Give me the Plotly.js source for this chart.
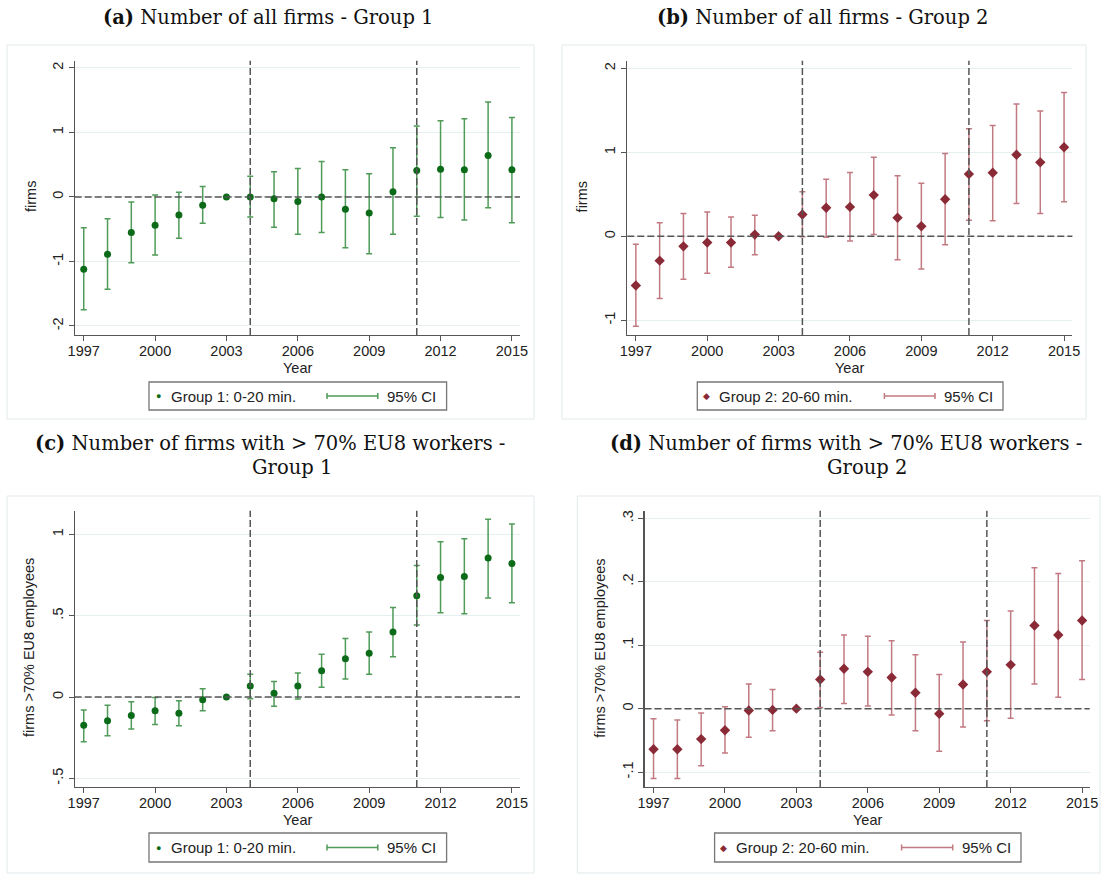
<!DOCTYPE html>
<html>
<head>
<meta charset="utf-8">
<script src="https://cdn.plot.ly/plotly-3.0.1.min.js"></script>
<style>html,body{margin:0;padding:0;background:#fff;}#chart{width:1101px;height:875px;}</style>
</head>
<body>
<div id="chart"></div>
<script>
// ---------------- data ----------------
var years = [1997,1998,1999,2000,2001,2002,2003,2004,2005,2006,2007,2008,2009,2010,2011,2012,2013,2014,2015];
var xTickVals = [1997,2000,2003,2006,2009,2012,2015];
var refYears = [2004, 2011];

// (a) Number of all firms - Group 1
var g1AllCoef = [-1.12,-0.89,-0.55,-0.44,-0.28,-0.13,0,0.00,-0.03,-0.07,0.00,-0.19,-0.25,0.08,0.41,0.43,0.42,0.64,0.42];
var g1AllHi   = [-0.48,-0.34,-0.08,0.03,0.07,0.16,null,0.32,0.39,0.44,0.55,0.42,0.36,0.76,1.10,1.18,1.21,1.47,1.23];
var g1AllLo   = [-1.75,-1.43,-1.02,-0.90,-0.64,-0.41,null,-0.31,-0.47,-0.58,-0.55,-0.79,-0.88,-0.58,-0.30,-0.32,-0.36,-0.17,-0.40];

// (b) Number of all firms - Group 2
var g2AllCoef = [-0.585,-0.29,-0.12,-0.075,-0.075,0.02,0,0.26,0.34,0.35,0.49,0.22,0.12,0.44,0.74,0.756,0.97,0.88,1.06];
var g2AllHi   = [-0.095,0.16,0.27,0.29,0.23,0.25,null,0.53,0.68,0.76,0.94,0.72,0.63,0.985,1.28,1.32,1.575,1.49,1.71];
var g2AllLo   = [-1.07,-0.74,-0.51,-0.44,-0.37,-0.22,null,-0.005,-0.01,-0.055,0.02,-0.28,-0.39,-0.10,0.19,0.186,0.39,0.27,0.41];

// (c) Number of firms with > 70% EU8 workers - Group 1
var g1EuCoef = [-0.174,-0.145,-0.113,-0.084,-0.10,-0.016,0,0.068,0.023,0.068,0.162,0.236,0.27,0.40,0.623,0.736,0.742,0.855,0.822];
var g1EuHi   = [-0.08,-0.05,-0.029,-0.002,-0.023,0.051,null,0.141,0.096,0.148,0.264,0.36,0.40,0.551,0.809,0.955,0.973,1.094,1.064];
var g1EuLo   = [-0.275,-0.238,-0.197,-0.168,-0.176,-0.084,null,-0.01,-0.057,-0.012,0.061,0.111,0.141,0.248,0.443,0.518,0.512,0.609,0.58];

// (d) Number of firms with > 70% EU8 workers - Group 2
var g2EuCoef = [-0.064,-0.064,-0.048,-0.034,-0.003,-0.002,0,0.046,0.063,0.058,0.049,0.025,-0.008,0.038,0.058,0.069,0.131,0.116,0.139];
var g2EuHi   = [-0.016,-0.018,-0.007,0.003,0.039,0.030,null,0.089,0.116,0.114,0.107,0.085,0.054,0.105,0.139,0.154,0.222,0.213,0.233];
var g2EuLo   = [-0.110,-0.110,-0.090,-0.070,-0.045,-0.035,null,0.002,0.008,0.004,-0.010,-0.035,-0.067,-0.029,-0.019,-0.015,0.039,0.018,0.046];

var yTicksA = [-2,-1,0,1,2];       var yLabelsA = ["-2","-1","0","1","2"];
var yTicksB = [-1,0,1,2];          var yLabelsB = ["-1","0","1","2"];
var yTicksC = [-0.5,0,0.5,1];      var yLabelsC = ["-.5","0",".5","1"];
var yTicksD = [-0.1,0,0.1,0.2,0.3];var yLabelsD = ["-.1","0",".1",".2",".3"];

var titles = [
  ["<b>(a)</b> Number of all firms - Group 1"],
  ["<b>(b)</b> Number of all firms - Group 2"],
  ["<b>(c)</b> Number of firms with &gt; 70% EU8 workers -", "Group 1"],
  ["<b>(d)</b> Number of firms with &gt; 70% EU8 workers -", "Group 2"]
];
var yTitles = ["firms","firms","firms >70% EU8 employees","firms >70% EU8 employees"];
var seriesNames = ["Group 1: 0-20 min.","Group 2: 20-60 min.","Group 1: 0-20 min.","Group 2: 20-60 min."];
var ciName = "95% CI";
var xTitle = "Year";

// ---------------- styling ----------------
var W = 1101, H = 875;
function px(x){ return x / W; }
function py(y){ return 1 - y / H; }

var GREEN = '#0c6b18', GREEN_CI = '#4f9b57';
var RED = '#8a2a36', RED_CI = '#c27a82';
var AXIS = '#555555', GRID = '#e6eff0', REF = '#555555', FRAME = '#e3e9ec';
var SANS = 'Liberation Sans, Arial, sans-serif';
var SERIF = 'DejaVu Serif, Liberation Serif, serif';

function errs(coef, hi, lo){
  var p = [], m = [];
  for (var i = 0; i < coef.length; i++){
    p.push(hi[i] === null ? null : hi[i] - coef[i]);
    m.push(lo[i] === null ? null : coef[i] - lo[i]);
  }
  return {p:p, m:m};
}

var panels = [
  {coef:g1AllCoef, hi:g1AllHi, lo:g1AllLo, col:GREEN, ci:GREEN_CI, sym:'circle', size:7,
   xd:[74.7,520], yd:[60.7,335], xr:[1996.62,2015.34], yr:[-2.14,2.11], tv:yTicksA, tt:yLabelsA,
   frame:[7,45,534,419], ytx:31, yty:197, yearY:368,
   leg:{box:[149,382,446.6,410], mk:158.4, tx:168.7, l1:327, l2:377.8, ct:385}},
  {coef:g2AllCoef, hi:g2AllHi, lo:g2AllLo, col:RED, ci:RED_CI, sym:'diamond', size:8,
   xd:[627.3,1072.4], yd:[60.7,335], xr:[1996.64,2015.35], yr:[-1.175,2.09], tv:yTicksB, tt:yLabelsB,
   frame:[562,45,1086,419], ytx:582.4, yty:197, yearY:368,
   leg:{box:[697.3,382,1003,410], mk:706, tx:717, l1:884.4, l2:935, ct:942.3}},
  {coef:g1EuCoef, hi:g1EuHi, lo:g1EuLo, col:GREEN, ci:GREEN_CI, sym:'circle', size:7,
   xd:[74.7,520], yd:[510.7,787], xr:[1996.62,2015.34], yr:[-0.553,1.146], tv:yTicksC, tt:yLabelsC,
   frame:[7,496,534,873], ytx:29, yty:648, yearY:820,
   leg:{box:[149,833,446.6,862], mk:158.4, tx:168.7, l1:327, l2:377.8, ct:385}},
  {coef:g2EuCoef, hi:g2EuHi, lo:g2EuLo, col:RED, ci:RED_CI, sym:'diamond', size:8,
   xd:[644.5,1089.7], yd:[510.7,787], xr:[1996.62,2015.32], yr:[-0.1235,0.312], tv:yTicksD, tt:yLabelsD,
   frame:[577.3,496,1100,873], ytx:599.7, yty:648, yearY:820,
   leg:{box:[714.6,833,1021,862], mk:723.2, tx:734.3, l1:901.6, l2:952.7, ct:959.6}}
];
var titlePos = [
  [[268,17]], [[823,17]],
  [[270,443],[292,467]], [[846,443],[867,467]]
];

var data = [], shapes = [], annotations = [];
var layout = {
  width: W, height: H, margin:{l:0,r:0,t:0,b:0},
  paper_bgcolor:'#ffffff', plot_bgcolor:'#ffffff', showlegend:false,
  font:{family:SANS, color:'#222'}
};

panels.forEach(function(p, i){
  var n = i + 1;
  var xa = 'xaxis' + (n === 1 ? '' : n), ya = 'yaxis' + (n === 1 ? '' : n);
  var xr = 'x' + (n === 1 ? '' : n), yr = 'y' + (n === 1 ? '' : n);
  var e = errs(p.coef, p.hi, p.lo);
  data.push({
    type:'scatter', mode:'markers', x:years, y:p.coef, xaxis:xr, yaxis:yr,
    name: seriesNames[i], cliponaxis:false,
    marker:{color:p.col, size:p.size, symbol:p.sym},
    error_y:{type:'data', symmetric:false, array:e.p, arrayminus:e.m, color:p.ci, thickness:1.5, width:3}
  });
  layout[xa] = {
    domain:[px(p.xd[0]), px(p.xd[1])], range:p.xr, anchor:yr,
    tickmode:'array', tickvals:xTickVals, ticktext:xTickVals.map(String),
    ticks:'outside', ticklen:5, tickcolor:AXIS, tickwidth:1, ticklabelstandoff:-3,
    showline:true, linecolor:AXIS, linewidth:1.2, showgrid:false, zeroline:false,
    tickfont:{size:14.5, color:'#222', family:SANS}
  };
  layout[ya] = {
    domain:[py(p.yd[1]), py(p.yd[0])], range:p.yr, anchor:xr,
    tickmode:'array', tickvals:p.tv, ticktext:p.tt, tickangle:-90,
    ticks:'outside', ticklen:5, tickcolor:AXIS, tickwidth:1,
    showline:true, linecolor:AXIS, linewidth:1.2, showgrid:true, gridcolor:GRID, gridwidth:1,
    zeroline:false, tickfont:{size:14.5, color:'#222', family:SANS}
  };
  // frame
  shapes.push({type:'rect', xref:'paper', yref:'paper', x0:px(p.frame[0]), x1:px(p.frame[2]),
    y0:py(p.frame[3]), y1:py(p.frame[1]), line:{color:FRAME, width:1}, layer:'below'});
  // reference lines
  shapes.push({type:'line', xref:xr+' domain', yref:yr, x0:0, x1:1, y0:0, y1:0,
    line:{color:REF, width:1.5, dash:'7px,3px'}});
  refYears.forEach(function(ry){
    shapes.push({type:'line', xref:xr, yref:yr+' domain', x0:ry, x1:ry, y0:0, y1:1,
      line:{color:REF, width:1.5, dash:'7px,3px'}});
  });
  // axis titles
  annotations.push({xref:'paper', yref:'paper', x:px((p.xd[0]+p.xd[1])/2), y:py(p.yearY),
    text:xTitle, showarrow:false, xanchor:'center', yanchor:'middle', font:{size:14.5, family:SANS, color:'#222'}});
  annotations.push({xref:'paper', yref:'paper', x:px(p.ytx), y:py(p.yty), textangle:-90,
    text:yTitles[i], showarrow:false, xanchor:'center', yanchor:'middle', font:{size:14.5, family:SANS, color:'#222'}});
  // legend
  var L = p.leg, cy = (L.box[1] + L.box[3]) / 2;
  shapes.push({type:'rect', xref:'paper', yref:'paper', x0:px(L.box[0]), x1:px(L.box[2]),
    y0:py(L.box[3]), y1:py(L.box[1]), line:{color:'#777', width:1.3}, fillcolor:'#fff'});
  annotations.push({xref:'paper', yref:'paper', x:px(L.mk), y:py(cy), text:(p.sym==='circle'?'●':'◆'),
    showarrow:false, xanchor:'center', yanchor:'middle', font:{size:9, color:p.col}});
  annotations.push({xref:'paper', yref:'paper', x:px(L.tx), y:py(cy), text:seriesNames[i],
    showarrow:false, xanchor:'left', yanchor:'middle', font:{size:15, family:SANS, color:'#222'}});
  shapes.push({type:'line', xref:'paper', yref:'paper', x0:px(L.l1), x1:px(L.l2), y0:py(cy), y1:py(cy), line:{color:p.ci, width:1.5}});
  shapes.push({type:'line', xref:'paper', yref:'paper', x0:px(L.l1), x1:px(L.l1), y0:py(cy-3), y1:py(cy+3), line:{color:p.ci, width:1.5}});
  shapes.push({type:'line', xref:'paper', yref:'paper', x0:px(L.l2), x1:px(L.l2), y0:py(cy-3), y1:py(cy+3), line:{color:p.ci, width:1.5}});
  annotations.push({xref:'paper', yref:'paper', x:px(L.ct), y:py(cy), text:ciName,
    showarrow:false, xanchor:'left', yanchor:'middle', font:{size:15, family:SANS, color:'#222'}});
  // panel titles
  titles[i].forEach(function(t, k){
    var pos = titlePos[i][k];
    annotations.push({xref:'paper', yref:'paper', x:px(pos[0]), y:py(pos[1]), text:t,
      showarrow:false, xanchor:'center', yanchor:'middle', font:{size:19.5, family:SERIF, color:'#111'}});
  });
});

layout.shapes = shapes;
layout.annotations = annotations;
Plotly.newPlot('chart', data, layout, {displayModeBar:false, staticPlot:true});
</script>
</body>
</html>
